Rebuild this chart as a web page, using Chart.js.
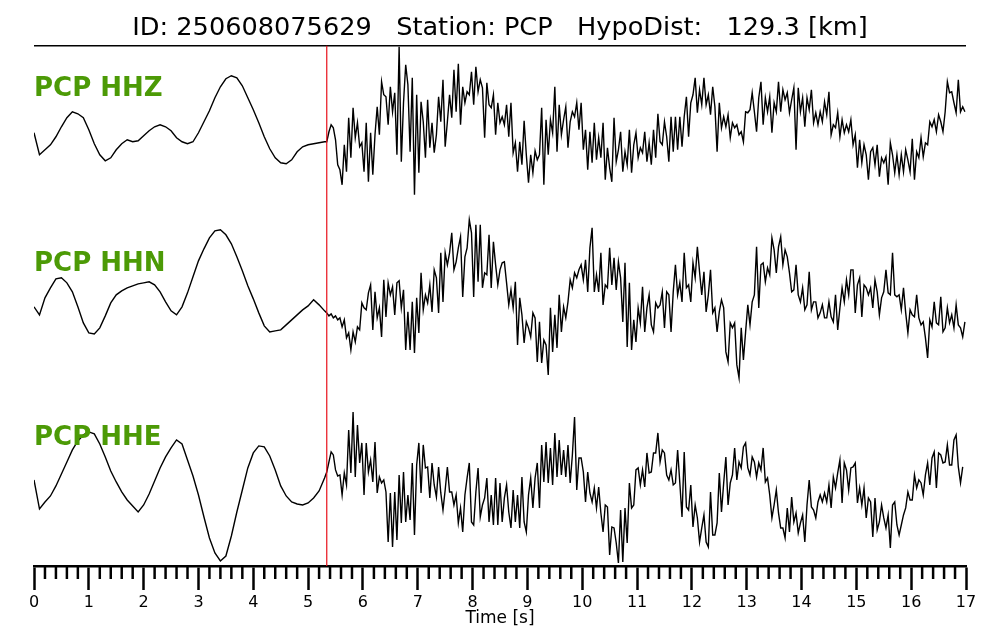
<!DOCTYPE html>
<html>
<head>
<meta charset="utf-8">
<title>Seismogram PCP</title>
<script src="https://cdn.jsdelivr.net/npm/chart.js@4.4.1/dist/chart.umd.min.js"></script>
<style>
    html, body { margin: 0; padding: 0; background: #fff; }
    #wrap { width: 1000px; height: 640px; position: relative; }
</style>
</head>
<body>
<div id="wrap"><canvas id="seisChart"></canvas></div>
<script>
// Event / station info
const eventId = '250608075629';
const station = 'PCP';
const hypoDist = 129.3;
const channels = ['HHZ', 'HHN', 'HHE'];

// Timing (s): P pick, sample step before / after the pick
const pickTime = 5.34;
const preStep = 0.1;
const postStep = 0.04;

// Amplitudes (relative to each trace's baseline)
const hhzPre = [
    7,-15,-10,-5,3,13,22,28,26,22,
    10,-4,-15,-21,-18,-10,-4,0,-2,-1,
    4,9,13,15,13,9,2,-2,-4,-2,
    7,18,29,42,53,61,64,62,54,42,
    30,17,3,-9,-18,-23,-24,-20,-12,-7,
    -5,-4,-3,-2
];
const hhzPost = [
    -2,8,15,12,0,-25,
    -30,-45,-5,-32,22,-18,32,2,17,-7,
    -3,-32,17,-42,7,-35,5,33,5,58,
    45,43,15,53,28,47,-15,93,-22,37,
    75,55,-12,62,-55,45,-33,38,18,-18,
    40,-8,17,-13,5,43,18,60,-7,18,
    45,22,70,28,76,15,53,37,48,45,
    68,35,73,48,60,52,2,57,35,32,
    45,5,37,17,23,15,35,3,37,-13,
    -3,-32,-2,-25,19,-15,-43,-15,-33,-11,
    -20,-15,32,-45,20,-15,20,7,53,-12,
    35,5,20,33,-8,18,28,23,37,10,
    37,-10,10,-30,8,-23,17,-20,2,-18,
    17,-40,-8,-28,-42,22,-22,-10,8,-32,
    -12,-25,10,-33,-5,
    7,-18,-8,-13,8,-22,-3,-25,10,-18,
    26,-2,-5,18,3,-22,23,-12,23,-10,
    23,-7,23,43,3,37,45,62,27,50,
    35,62,35,45,25,53,33,-12,37,12,
    23,13,25,2,17,12,15,5,8,-2,
    28,27,30,47,28,8,42,58,15,42,
    28,43,7,37,28,58,28,50,40,47,
    27,40,52,-10,52,28,42,13,42,30,
    50,17,27,15,28,18,38,25,48,5,
    15,12,27,3,20,7,15,8,20,-5,
    5,-28,0,-23,-5,-15,-40,-12,-8,-25,
    -5,-37,-18,-23,-17,-45,-3,-15,-33,-15,
    -35,-15,-32,-10,-20,-32,1,-40,-12,-18,
    2,-17,-3,-5,18,13,20,8,25,18,
    8,28,58,47,48,37,27,60,28,33,
    28
];

const hhnPre = [
    3,-5,12,22,31,32,27,18,3,-13,
    -23,-24,-18,-6,7,15,19,22,24,26,
    27,28,25,18,8,-1,-5,3,17,33,
    49,61,72,79,80,75,66,53,39,24,
    11,-3,-16,-22,-21,-20,-15,-10,-5,0,
    4,10,5,-1
];
const hhnPost = [
    -3,-6,-4,-8,-6,-10,
    -8,-17,-10,-28,-23,-40,-22,-32,-17,-20,
    7,2,0,17,25,-20,18,-8,2,-27,
    30,-7,27,15,23,-5,27,29,2,20,
    -40,-2,-40,8,-43,12,-23,37,0,15,
    7,25,-2,40,32,-3,57,8,57,45,
    57,77,40,48,62,73,13,53,62,90,
    77,13,85,28,85,22,37,35,75,22,
    68,45,25,40,47,48,27,5,20,2,
    28,-35,12,-5,-33,-12,-18,-27,-3,-8,
    -52,-12,-53,-30,-35,-65,2,-42,-5,-38,
    15,-22,3,-8,8,30,22,37,32,40,
    45,30,50,18,62,82,18,35,18,57,
    5,25,22,62,25,52,20,48,32,-12,
    47,-37,27,-40,-10,-32,2,-13,23,-22,
    2,15,-15,-22,7,2,5,18,-18,18,
    15,-22,18,45,15,27,8,57,22,25,
    8,47,32,63,38,15,38,-2,15,40,
    -3,2,-22,-2,10,2,-42,-52,-13,-18,
    -13,-55,-68,-18,-50,-22,5,-15,8,15,
    63,2,45,47,28,42,35,72,60,37,
    63,73,45,60,53,37,18,20,45,15,
    8,22,0,5,38,0,8,8,-8,-3,
    5,-8,-8,8,-7,-12,15,-20,2,22,
    8,30,15,40,40,-3,25,32,-7,25,
    22,15,22,2,30,18,-5,12,18,40,
    17,15,57,15,13,15,0,22,-3,-23,
    0,-5,-7,15,-8,-15,-12,-28,-48,-10,
    -17,8,-13,-15,13,-22,-18,2,-13,-5,
    -18,5,-15,-18,-27,-12
];

const hhePre = [
    10,-19,-12,-6,4,16,28,40,49,55,
    58,56,46,33,19,8,-2,-10,-16,-22,
    -15,-4,9,22,33,42,50,46,30,14,
    -5,-27,-48,-63,-71,-66,-46,-22,0,22,
    37,44,43,34,20,4,-6,-12,-14,-15,
    -13,-8,-1,12
];
const hhePost = [
    18,28,38,35,20,14,
    15,-5,17,5,60,17,78,13,65,27,
    47,-5,47,18,30,8,48,-3,13,7,
    10,-2,-52,-3,-57,-2,-50,15,-33,18,
    -32,-5,-30,27,-45,25,47,-3,45,22,
    23,-8,27,5,-7,23,-3,-20,0,23,
    -2,-2,-15,-5,-33,-18,-42,-5,12,27,
    -32,-35,-2,22,-27,-15,-8,12,-32,-5,
    -35,12,-35,7,-32,-8,5,-22,-38,0,
    -32,-5,-38,13,-32,-42,-5,12,-18,12,
    27,-18,45,8,48,7,42,5,57,13,
    50,15,40,13,45,7,35,73,0,32,
    32,18,-12,18,-3,-12,2,-18,3,-23,
    -42,-15,-17,-65,-37,-38,-53,-73,-20,-72,
    -18,-53,7,-18,-15,20,22,5,20,3,
    37,17,18,37,
    37,57,28,40,37,15,10,20,5,7,
    40,7,-27,38,-17,-20,5,-37,-15,-28,
    -52,-38,-25,-52,-57,-2,-45,-45,-33,17,
    -22,7,33,-15,7,15,42,10,28,22,
    43,47,22,15,33,28,13,27,20,42,
    8,12,-5,-28,-15,0,-23,-38,-38,-48,
    -18,-42,-7,-32,-23,-43,-33,-25,-52,-15,
    10,-17,-20,-28,-12,-5,-12,-3,-12,5,
    -18,13,2,17,30,-13,27,20,0,22,
    23,27,-13,2,-15,2,-28,-8,-12,-47,
    -8,-40,-32,-15,-28,-38,-25,-58,-15,-12,
    -35,-45,-35,-25,-18,-2,-10,-10,15,2,
    10,7,-5,15,27,5,32,38,2,37,
    35,27,28,45,25,25,50,55,23,7,
    23
];

// Vertical stacking of the three traces (y axis units)
const traceOffsets = [426, 256, 76];
const labelLift = [50, 46, 52];

// Build one trace: pre-pick part then post-pick part
function buildTrace(pre, post, offset) {
    const pts = pre.map((v, i) => ({ x: +(i * preStep).toFixed(3), y: offset + v }));
    post.forEach((v, i) => {
        pts.push({ x: +(pickTime + i * postStep).toFixed(3), y: offset + v });
    });
    return pts;
}

const traces = [
    buildTrace(hhzPre, hhzPost, traceOffsets[0]),
    buildTrace(hhnPre, hhnPost, traceOffsets[1]),
    buildTrace(hhePre, hhePost, traceOffsets[2])
];

// Frame line, P pick, minor ticks and channel labels
const seisDecor = {
    id: 'seisDecor',
    afterDatasetsDraw(chart) {
        const { ctx, chartArea: a, scales: { x, y } } = chart;
        ctx.save();

        // top frame line
        ctx.strokeStyle = '#000';
        ctx.lineWidth = 1.5;
        ctx.beginPath();
        ctx.moveTo(a.left, a.top);
        ctx.lineTo(a.right, a.top);
        ctx.stroke();

        // P pick
        const px = x.getPixelForValue(pickTime);
        ctx.strokeStyle = '#e8101a';
        ctx.lineWidth = 1.2;
        ctx.beginPath();
        ctx.moveTo(px, a.top);
        ctx.lineTo(px, a.bottom);
        ctx.stroke();

        // minor ticks every 0.2 s
        ctx.strokeStyle = '#000';
        ctx.lineWidth = 2.5;
        for (let k = 1; k < 85; k++) {
            if (k % 5 === 0) continue;
            const tx = x.getPixelForValue(k * 0.2);
            ctx.beginPath();
            ctx.moveTo(tx, a.bottom);
            ctx.lineTo(tx, a.bottom + 13);
            ctx.stroke();
        }

        // channel labels
        ctx.fillStyle = '#4c9a06';
        ctx.font = 'bold 26px "DejaVu Sans"';
        ctx.textAlign = 'left';
        ctx.textBaseline = 'middle';
        channels.forEach((ch, i) => {
            ctx.fillText(station + ' ' + ch, a.left, y.getPixelForValue(traceOffsets[i] + labelLift[i]));
        });

        ctx.restore();
    }
};

const ctx = document.getElementById('seisChart').getContext('2d');
new Chart(ctx, {
    type: 'line',
    data: {
        datasets: traces.map((pts, i) => ({
            label: channels[i],
            data: pts,
            borderColor: '#000',
            borderWidth: 1.4,
            pointRadius: 0,
            tension: 0,
            fill: false
        }))
    },
    options: {
        responsive: true,
        maintainAspectRatio: false,
        animation: false,
        events: [],
        layout: {
            padding: { left: 34, right: 34, top: 0, bottom: 0 }
        },
        scales: {
            x: {
                type: 'linear',
                min: 0,
                max: 17,
                ticks: {
                    stepSize: 1,
                    autoSkip: false,
                    maxRotation: 0,
                    color: '#000',
                    padding: 3,
                    font: { family: 'DejaVu Sans', size: 16 }
                },
                grid: {
                    drawOnChartArea: false,
                    drawTicks: true,
                    tickLength: 24,
                    tickWidth: 2.5,
                    tickColor: '#000'
                },
                border: { display: true, color: '#000', width: 2.5 },
                title: {
                    display: true,
                    text: 'Time [s]',
                    color: '#000',
                    font: { family: 'DejaVu Sans', size: 17 },
                    padding: { top: 0, bottom: 11 }
                },
                afterFit(scale) {
                    scale.height = 74;
                }
            },
            y: {
                display: false,
                min: 0,
                max: 520
            }
        },
        plugins: {
            legend: { display: false },
            tooltip: { enabled: false },
            title: {
                display: true,
                text: `ID: ${eventId}   Station: ${station}   HypoDist:   ${hypoDist.toFixed(1)} [km]`,
                color: '#000',
                font: { family: 'DejaVu Sans', size: 25.6, weight: 'normal', lineHeight: 1.2 },
                padding: { top: 13, bottom: 2 }
            }
        }
    },
    plugins: [seisDecor]
});
</script>
</body>
</html>
